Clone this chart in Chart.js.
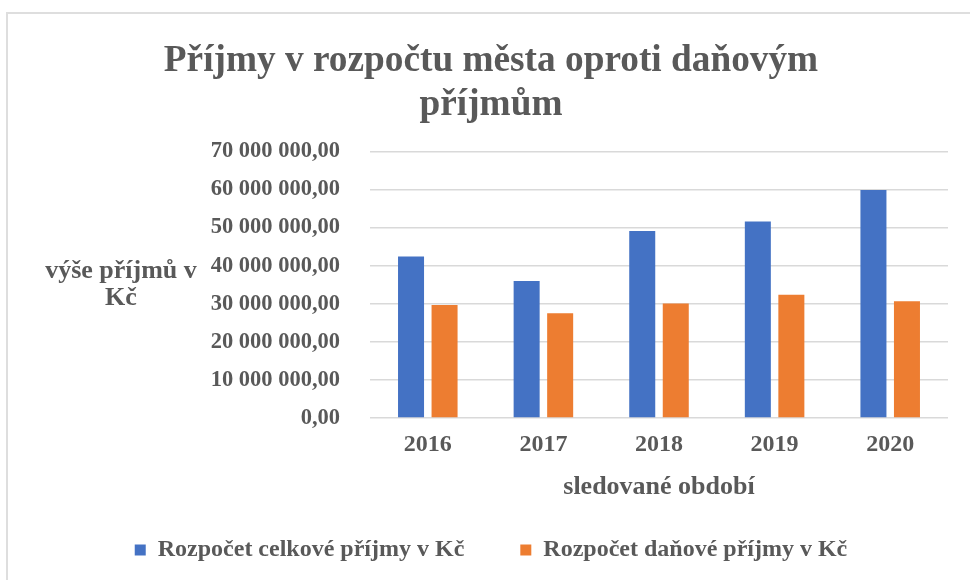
<!DOCTYPE html>
<html>
<head>
<meta charset="utf-8">
<script src="https://cdn.jsdelivr.net/npm/chart.js@4/dist/chart.umd.min.js"></script>
<style>
    body { margin: 0; background: #fff; }
    #wrap { position: relative; width: 970px; height: 580px; }
    #frame {
        position: absolute; left: 6px; top: 12px; width: 1000px; height: 600px;
        border-top: 2px solid #dedede; border-left: 2px solid #dedede;
    }
    #chart { position: absolute; left: 0; top: 0; }
</style>
</head>
<body>
<div id="wrap">
    <div id="frame"></div>
    <canvas id="chart" width="970" height="580"></canvas>
</div>
<script>
// data
const years = ['2016', '2017', '2018', '2019', '2020'];
const celkovePrijmy = [42400000, 36000000, 49100000, 51600000, 59900000];
const danovePrijmy = [29700000, 27500000, 30100000, 32400000, 30700000];
const seriesNames = ['Rozpočet celkové příjmy v Kč', 'Rozpočet daňové příjmy v Kč'];
const titleLines = ['Příjmy v rozpočtu města oproti daňovým', 'příjmům'];
const yTitleLines = ['výše příjmů v', 'Kč'];
const xTitle = 'sledované období';

const grey = '#595959';
const serif = "'Liberation Serif', 'Times New Roman', serif";

// 70 000 000,00
function formatKc(v) {
    return Math.round(v).toString().replace(/\B(?=(\d{3})+(?!\d))/g, ' ') + ',00';
}

// popisek osy Y je v originale vodorovne, vlevo od hodnot
const yTitlePlugin = {
    id: 'yTitle',
    afterDraw(chart) {
        const ctx = chart.ctx;
        const area = chart.chartArea;
        const mid = (area.top + area.bottom) / 2;
        ctx.save();
        ctx.font = 'bold 26px ' + serif;
        ctx.fillStyle = grey;
        ctx.textAlign = 'center';
        ctx.textBaseline = 'middle';
        ctx.fillText(yTitleLines[0], 121, mid - 13.5);
        ctx.fillText(yTitleLines[1], 121, mid + 14);
        ctx.restore();
    }
};

new Chart(document.getElementById('chart'), {
    type: 'bar',
    data: {
        labels: years,
        datasets: [
            { label: seriesNames[0], data: celkovePrijmy, backgroundColor: '#4472C4' },
            { label: seriesNames[1], data: danovePrijmy, backgroundColor: '#ED7D31' }
        ]
    },
    options: {
        responsive: false,
        animation: false,
        categoryPercentage: 0.58,
        barPercentage: 0.776,
        layout: { padding: { left: 34, right: 22, top: 0, bottom: 8 } },
        plugins: {
            title: {
                display: true,
                text: titleLines,
                color: grey,
                font: { family: serif, size: 37.3, weight: 'bold', lineHeight: 1.16 },
                padding: { top: 40, bottom: 25 }
            },
            legend: {
                position: 'bottom',
                labels: {
                    color: grey,
                    font: { family: serif, size: 24, weight: 'bold' },
                    boxWidth: 11,
                    boxHeight: 11,
                    padding: 56
                }
            },
            tooltip: { enabled: false }
        },
        scales: {
            x: {
                grid: { display: false },
                border: { display: false },
                ticks: {
                    color: grey,
                    font: { family: serif, size: 24, weight: 'bold' },
                    padding: 4
                },
                title: {
                    display: true,
                    text: xTitle,
                    color: grey,
                    font: { family: serif, size: 26, weight: 'bold' },
                    padding: { top: 9, bottom: -21 }
                }
            },
            y: {
                min: 0,
                max: 70000000,
                grid: { color: '#d9d9d9', lineWidth: 1.5, drawTicks: false },
                border: { display: false },
                ticks: {
                    stepSize: 10000000,
                    color: grey,
                    font: { family: serif, size: 22.5, weight: 'bold' },
                    padding: 30,
                    callback: v => formatKc(v)
                },
                afterFit: s => { s.width = 336; }
            }
        }
    },
    plugins: [yTitlePlugin]
});
</script>
</body>
</html>
